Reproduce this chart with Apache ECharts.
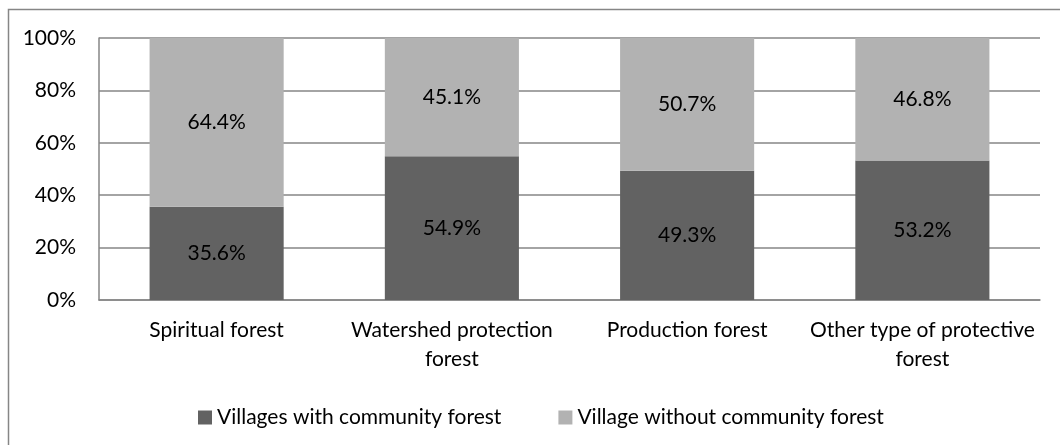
<!DOCTYPE html>
<html>
<head>
<meta charset="utf-8">
<script src="https://cdn.jsdelivr.net/npm/echarts@6/dist/echarts.min.js"></script>
<style>
  html, body { margin: 0; padding: 0; background: #fff; }
  #chart { width: 1060px; height: 445px; }
</style>
</head>
<body>
<div id="chart"></div>
<script>
// categories (line breaks as in the original tick labels)
var categories = ['Spiritual forest', 'Watershed protection\nforest', 'Production forest', 'Other type of protective\nforest'];
var withForest = [35.6, 54.9, 49.3, 53.2];
var withoutForest = [64.4, 45.1, 50.7, 46.8];
var seriesNames = ['Villages with community forest', 'Village without community forest'];

var FONT = 'Lato';
var FS = 21;
var chart = echarts.init(document.getElementById('chart'));

var labelOpt = {
  show: true,
  position: 'inside',
  color: '#000',
  fontFamily: FONT,
  fontSize: FS,
  formatter: function (p) { return p.value.toFixed(1) + '%'; }
};

chart.setOption({
  animation: false,
  textStyle: { fontFamily: FONT },
  graphic: [{
    type: 'rect',
    shape: { x: 8.5, y: 9.5, width: 1070, height: 460 },
    style: { fill: 'none', stroke: '#868686', lineWidth: 1.5 },
    silent: true
  }],
  grid: { left: 99, right: 20, top: 38, bottom: 145 },
  legend: {
    left: 193,
    top: 402,
    itemWidth: 14,
    itemHeight: 14,
    itemGap: 57,
    icon: 'rect',
    textStyle: { fontFamily: FONT, fontSize: FS, color: '#000' },
    data: seriesNames
  },
  xAxis: {
    type: 'category',
    data: categories,
    axisLine: { lineStyle: { color: '#868686', width: 1.5 } },
    axisTick: { show: false },
    axisLabel: { color: '#000', fontFamily: FONT, fontSize: FS, margin: 16, lineHeight: 29, interval: 0 }
  },
  yAxis: {
    type: 'value',
    min: 0,
    max: 100,
    interval: 20,
    axisLine: { show: true, lineStyle: { color: '#868686', width: 1.5 } },
    axisTick: { show: false },
    splitLine: { lineStyle: { color: '#868686', width: 1.5 } },
    axisLabel: { color: '#000', fontFamily: FONT, fontSize: FS, margin: 23, formatter: '{value}%' }
  },
  series: [{
    name: seriesNames[0],
    type: 'bar',
    stack: 'total',
    barWidth: '57%',
    itemStyle: { color: '#626262' },
    label: labelOpt,
    data: withForest
  }, {
    name: seriesNames[1],
    type: 'bar',
    stack: 'total',
    barWidth: '57%',
    itemStyle: { color: '#b2b2b2' },
    label: labelOpt,
    data: withoutForest
  }]
});
</script>
</body>
</html>
